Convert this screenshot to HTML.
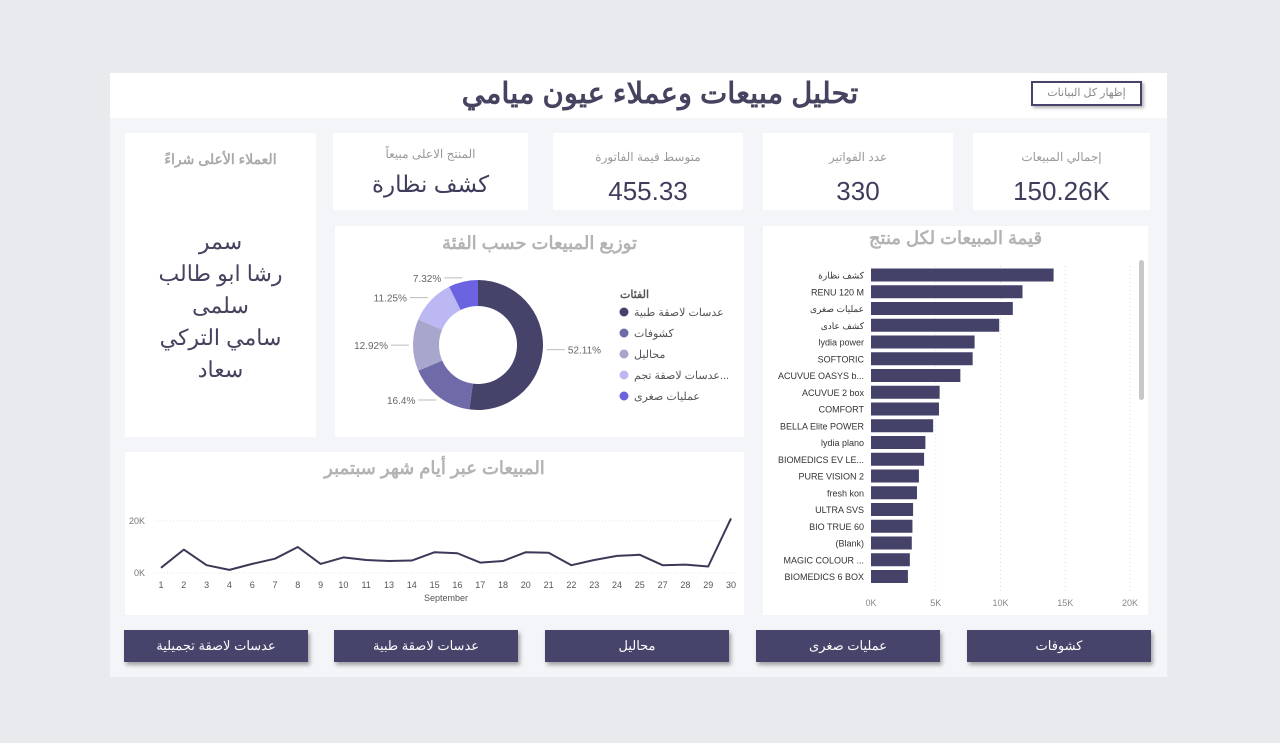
<!DOCTYPE html>
<html><head><meta charset="utf-8">
<style>
body{margin:0;width:1280px;height:743px;background:#e9eaed;font-family:"Liberation Sans","Noto Sans CJK SC",sans-serif;position:relative;overflow:hidden}
.abs{position:absolute}
#panel{left:110px;top:73px;width:1057px;height:604px;background:#f4f5f8}
#header{left:110px;top:73px;width:1057px;height:45px;background:#fff}
.card{position:absolute;background:#fff}
.kt{position:absolute;left:0;right:0;text-align:center;color:#9a9a9a;font-size:12px}
.kv{position:absolute;left:0;right:0;text-align:center;color:#3f3d5c;font-size:26px}
.btn{position:absolute;top:630px;height:32px;width:184px;background:#47446b;color:#fff;font-size:13px;text-align:center;line-height:32px;box-shadow:2px 3px 4px rgba(0,0,0,.35)}
.ttl{position:absolute;left:0;right:0;text-align:center;color:#b3b3b3;font-size:18px;font-weight:bold}
</style></head><body>
<div class="abs" id="panel"></div>
<div class="abs" id="header"></div>
<div class="abs" style="left:400px;top:76px;width:520px;text-align:center;font-size:29px;font-weight:bold;color:#45435f">تحليل مبيعات وعملاء عيون ميامي</div>
<div class="abs" style="left:1031px;top:81px;width:107px;height:21px;border:2px solid #47446b;box-shadow:2px 2px 3px rgba(0,0,0,.3);background:#fff;color:#888;font-size:11px;text-align:center;line-height:21px">إظهار كل البيانات</div>

<div class="card" style="left:973px;top:133px;width:177px;height:77px"><div class="kt" style="top:17px">إجمالي المبيعات</div><div class="kv" style="top:43px">150.26K</div></div>
<div class="card" style="left:763px;top:133px;width:190px;height:77px"><div class="kt" style="top:17px">عدد الفواتير</div><div class="kv" style="top:43px">330</div></div>
<div class="card" style="left:553px;top:133px;width:190px;height:77px"><div class="kt" style="top:17px">متوسط قيمة الفاتورة</div><div class="kv" style="top:43px">455.33</div></div>
<div class="card" style="left:333px;top:133px;width:195px;height:77px"><div class="kt" style="top:14px">المنتج الاعلى مبيعاً</div><div class="kv" style="top:38px;font-size:23px">كشف نظارة</div></div>
<div class="card" style="left:125px;top:133px;width:191px;height:304px"><div class="kt" style="top:18px;font-size:14px;font-weight:bold;color:#a9a9a9">العملاء الأعلى شراءً</div>
<div class="abs" style="left:0;right:0;top:93px;text-align:center;color:#45435f;font-size:22px;line-height:32px">سمر<br>رشا ابو طالب<br>سلمى<br>سامي التركي<br>سعاد</div></div>

<div class="card" style="left:335px;top:226px;width:409px;height:211px"><div class="ttl" style="top:7px">توزيع المبيعات حسب الفئة</div></div>
<svg class="abs" style="left:335px;top:226px" width="409" height="211" id="donut"></svg>

<div class="card" style="left:763px;top:226px;width:385px;height:389px"><div class="ttl" style="top:2px">قيمة المبيعات لكل منتج</div></div>
<svg class="abs" style="left:763px;top:226px" width="385" height="389" id="bars"></svg>

<div class="card" style="left:125px;top:452px;width:619px;height:163px"><div class="ttl" style="top:6px">المبيعات عبر أيام شهر سبتمبر</div></div>
<svg class="abs" style="left:125px;top:452px" width="619" height="163" id="line"></svg>

<div class="btn" style="left:124px">عدسات لاصقة تجميلية</div>
<div class="btn" style="left:334px">عدسات لاصقة طبية</div>
<div class="btn" style="left:545px">محاليل</div>
<div class="btn" style="left:756px">عمليات صغرى</div>
<div class="btn" style="left:967px">كشوفات</div>

<script>
const NS="http://www.w3.org/2000/svg";
function mk(p,t,a,txt){const e=document.createElementNS(NS,t);for(const k in a)e.setAttribute(k,a[k]);if(txt!==undefined)e.textContent=txt;p.appendChild(e);return e;}

// Donut data
const donutCats=["عدسات لاصقة طبية","كشوفات","محاليل","عدسات لاصقة تجم...","عمليات صغرى"];
const donutVals=[52.11,16.4,12.92,11.25,7.32];
const donutLabels=["52.11%","16.4%","12.92%","11.25%","7.32%"];
const donutColors=["#46436b","#6f6aa8","#a8a6cc","#bcb8f4","#6c63e0"];

// Bar data
const products=["كشف نظارة","RENU 120 M","عمليات صغرى","كشف عادى","lydia power","SOFTORIC","ACUVUE OASYS b...","ACUVUE 2 box","COMFORT","BELLA Elite POWER","lydia plano","BIOMEDICS EV LE...","PURE VISION 2","fresh kon","ULTRA SVS","BIO TRUE 60","(Blank)","MAGIC COLOUR ...","BIOMEDICS 6 BOX"];
const productSales=[14.1,11.7,10.95,9.9,8.0,7.85,6.9,5.3,5.25,4.8,4.2,4.1,3.7,3.55,3.25,3.2,3.15,3.0,2.85];
const barTicks=["0K","5K","10K","15K","20K"];

// Line data
const days=["1","2","3","4","6","7","8","9","10","11","13","14","15","16","17","18","20","21","22","23","24","25","27","28","29","30"];
const daySales=[2,9,3,1.2,3.5,5.5,10,3.5,6,5,4.6,4.8,8,7.6,4,4.6,8,7.8,3,5,6.6,7,3,3.2,2.5,21];
const lineTicks=["0K","20K"];

// Donut
(function(){
const s=document.getElementById("donut");
const cx=143,cy=119,R=65,r=39;let tot=donutVals.reduce((a,b)=>a+b,0),a0=-Math.PI/2;
donutVals.forEach((v,i)=>{
 const a1=a0+v/tot*2*Math.PI;const big=(a1-a0)>Math.PI?1:0;
 const p=(rr,a)=>[cx+rr*Math.cos(a),cy+rr*Math.sin(a)];
 const [x1,y1]=p(R,a0),[x2,y2]=p(R,a1),[x3,y3]=p(r,a1),[x4,y4]=p(r,a0);
 const sl=mk(s,"path",{d:`M${x1},${y1}A${R},${R} 0 ${big} 1 ${x2},${y2}L${x3},${y3}A${r},${r} 0 ${big} 0 ${x4},${y4}Z`,fill:donutColors[i]});
 
 
 const am=(a0+a1)/2;const [lx,ly]=p(R+4,am);const right=Math.cos(am)>0;
 const ex=right?lx+18:lx-18;
 const ln=mk(s,"polyline",{points:`${lx},${ly} ${lx+(right?8:-8)},${ly} ${ex},${ly}`,stroke:"#bbb",fill:"none"});
 
 
 const t=mk(s,"text",{x:right?ex+3:ex-3,y:ly+4,"font-size":10,fill:"#666","text-anchor":right?"start":"end"},donutLabels[i]);
 
 
 a0=a1;
});
const lt=mk(s,"text",{x:285,y:72,"font-size":11,"font-weight":"bold",fill:"#555","text-anchor":"start"},"الفئات");


donutCats.forEach((c,i)=>{
 const y=86+i*21;
 const g=mk(s,"g",{});
 
 
 mk(g,"circle",{cx:289,cy:y,r:4.5,fill:donutColors[i]});
 mk(g,"text",{x:299,y:y+4,"font-size":11,fill:"#555","text-anchor":"start"},c);
});
})();

// Bars
(function(){
const s=document.getElementById("bars");
const x0=108,x1=367,maxV=20,y0=49,step=16.75,bh=13;
const xs=v=>x0+v/maxV*(x1-x0);
barTicks.forEach((t,i)=>{const v=i*5;const x=xs(v);
 if(i>0){const g=mk(s,"line",{x1:x,x2:x,y1:40,y2:365,stroke:"#ddd","stroke-dasharray":"1,3"});}
 const tt=mk(s,"text",{x:x,y:380,"font-size":9,fill:"#888","text-anchor":"middle"},t);
 
 
});
products.forEach((p,i)=>{
 const y=y0+i*step-bh/2;
 const b=mk(s,"rect",{x:x0,y:y,width:xs(productSales[i])-x0,height:bh,fill:"#45426a"});
 
 
 const t=mk(s,"text",{x:x0-7,y:y+10,"font-size":9,fill:"#333","text-anchor":"end"},p);
 
 
});
const sb=mk(s,"rect",{x:376,y:34,width:5,height:140,rx:2.5,fill:"#c8c8c8"});


})();

// Line
(function(){
const s=document.getElementById("line");
const xL=36,xR=606,yB=121,yT=69,maxV=20;
const xs=i=>xL+i*(xR-xL)/(days.length-1);
const ys=v=>yB-v/maxV*(yB-yT);
lineTicks.forEach((t,i)=>{const y=ys(i*20);
 const g=mk(s,"line",{x1:30,x2:612,y1:y,y2:y,stroke:"#e4e4e4","stroke-dasharray":"1,2"});
 
 
 const tt=mk(s,"text",{x:20,y:y+3,"font-size":9,fill:"#777","text-anchor":"end"},t);
 
 
});
const pts=daySales.map((v,i)=>xs(i)+","+ys(v)).join(" ");
const pl=mk(s,"polyline",{points:pts,fill:"none",stroke:"#3b3957","stroke-width":2,"stroke-linejoin":"round"});


days.forEach((d,i)=>{
 const t=mk(s,"text",{x:xs(i),y:136,"font-size":9,fill:"#555","text-anchor":"middle"},d);
 
 
});
const xt=mk(s,"text",{x:321,y:149,"font-size":9,fill:"#555","text-anchor":"middle"},"September");


})();
</script>
</body></html>
